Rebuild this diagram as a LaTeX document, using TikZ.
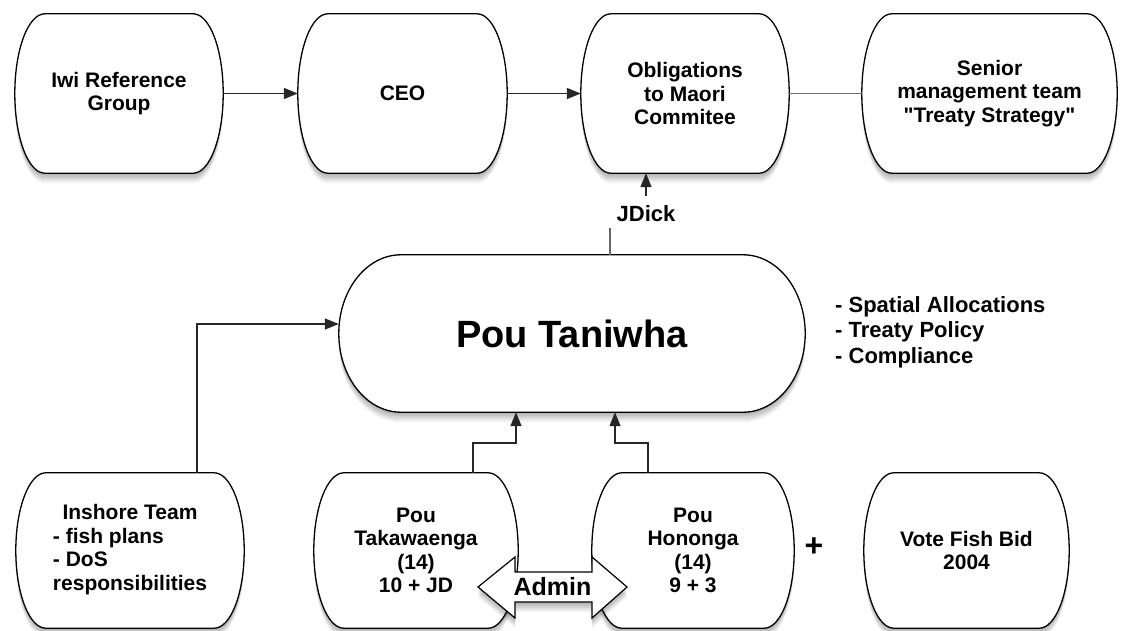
\documentclass[tikz,border=0pt]{standalone}
\usepackage{fontspec}
\setmainfont{Liberation Sans}[Ligatures=TeXOff]
\usetikzlibrary{calc,arrows.meta,shadows}
\pgfdeclarelayer{background}
\pgfsetlayers{background,main}
\newcommand\normaltext{\fontsize{21}{23.5}\selectfont\bfseries}
\newcommand\bullettext{\fontsize{22}{25.5}\selectfont\bfseries}
\newcommand\bigtext{\fontsize{38}{42}\selectfont\bfseries}
\tikzset{
  softshadow/.style={
    general shadow={fill=black, opacity=0.07, shadow xshift=0pt, shadow yshift=-2pt},
    general shadow={fill=black, opacity=0.07, shadow xshift=0pt, shadow yshift=-4pt},
    general shadow={fill=black, opacity=0.07, shadow xshift=0pt, shadow yshift=-6pt},
    general shadow={fill=black, opacity=0.06, shadow xshift=0pt, shadow yshift=-8pt},
    general shadow={fill=black, opacity=0.05, shadow xshift=0pt, shadow yshift=-10pt}},
  boxline/.style={draw=black, line width=1.3pt, fill=white, softshadow},
  holder/.style={draw=none, inner sep=0pt, align=center, font=\normaltext},
  conn/.style={draw=black!85, line width=1.4pt},
  arr/.style={conn, -{Triangle[length=14pt,width=11pt]}},
}
\newcommand\barrel[2]{%
  \path[boxline] let \p1=(#1.north west), \p2=(#1.south east), \n1={(\y1-\y2)/2} in
  (\x1+#2pt,\y1) -- (\x2-#2pt,\y1)
  arc[start angle=90,end angle=-90,x radius=#2pt,y radius={\n1*1pt}]
  -- (\x1+#2pt,\y2)
  arc[start angle=270,end angle=90,x radius=#2pt,y radius={\n1*1pt}] -- cycle;}
\begin{document}
\begin{tikzpicture}[x=1pt,y=-1pt]
\useasboundingbox (0,0) rectangle (1121,631);

% top row
\node[holder, minimum width=208pt, minimum height=159pt] (iwi) at (119,93.5) {Iwi Reference\\Group};
\node[holder, minimum width=209pt, minimum height=159pt] (ceo) at (402.5,93.5) {CEO};
\node[holder, minimum width=208pt, minimum height=159pt] (obl) at (685,93.5) {Obligations\\to Maori\\Commitee};
\node[holder, minimum width=255pt, minimum height=159pt] (sen) at (989.5,93.5) {Senior\\management team\\\char34 Treaty Strategy\char34};

% middle
\node[holder, font=\bigtext, minimum width=466pt, minimum height=157pt] (pou) at (572,333.5) {Pou Taniwha};
\node[anchor=west, align=left, inner sep=0pt, font=\bullettext] (bul) at (835,332)
  {- Spatial Allocations\\- Treaty Policy\\- Compliance};

% bottom row
\node[holder, minimum width=228pt, minimum height=155pt] (ins) at (130,550.5)
  {\begin{tabular}{@{}l@{}}\multicolumn{1}{@{}c@{}}{Inshore Team}\\- fish plans\\- DoS\\responsibilities\end{tabular}};
\node[holder, minimum width=204pt, minimum height=155pt] (tak) at (416,550.5) {Pou\\Takawaenga\\(14)\\10 + JD};
\node[holder, minimum width=202pt, minimum height=155pt] (hon) at (693,550.5) {Pou\\Hononga\\(14)\\9 + 3};
\node[holder, minimum width=205pt, minimum height=155pt] (vote) at (966.5,550.5) {Vote Fish Bid\\2004};
\node[inner sep=0pt, font=\fontsize{32}{32}\selectfont\bfseries] (plus) at (814,547) {+};

\begin{pgfonlayer}{background}
  \fill[white] (0,0) rectangle (1121,631);
  \barrel{iwi}{30}
  \barrel{ceo}{30}
  \barrel{obl}{30}
  \barrel{sen}{30}
  \barrel{pou}{62}
  \barrel{ins}{30}
  \barrel{tak}{30}
  \barrel{hon}{30}
  \barrel{vote}{30}
\end{pgfonlayer}

% connectors top
\draw[arr] (iwi.east) -- (ceo.west);
\draw[arr] (ceo.east) -- (obl.west);
\draw[conn, draw=black!55] (obl.east) -- (sen.west);

% JDick
\node[inner sep=0pt, font=\bullettext] (jd) at (646,214) {JDick};
\coordinate (jdfoot) at (610,228);
\draw[conn, draw=black!60] (pou.north -| jdfoot) -- (jdfoot);
\draw[arr] ([yshift=10pt]jd.north) -- (jd.north |- obl.south);

% inshore to pou
\coordinate (insbend) at (197,324);
\draw[arr] (ins.north -| insbend) -- (insbend) -- (pou.west |- insbend);

% takawaenga to pou
\coordinate (takbend) at (473,443);
\coordinate (takin) at (516,443);
\draw[arr] (tak.north -| takbend) -- (takbend) -- (takin) -- (takin |- pou.south);

% hononga to pou
\coordinate (honbend) at (648,443);
\coordinate (honin) at (615,443);
\draw[arr] (hon.north -| honbend) -- (honbend) -- (honin) -- (honin |- pou.south);

% Admin double arrow
\coordinate (admc) at (552.5,587);
\path[boxline, line width=1.2pt]
  ($(admc)+(-74.5,0)$) -- ($(admc)+(-37.5,-30)$) -- ($(admc)+(-37.5,-15)$)
  -- ($(admc)+(39.5,-15)$) -- ($(admc)+(39.5,-30)$) -- ($(admc)+(74.5,0)$)
  -- ($(admc)+(39.5,31)$) -- ($(admc)+(39.5,15)$) -- ($(admc)+(-37.5,15)$)
  -- ($(admc)+(-37.5,31)$) -- cycle;
\node[inner sep=0pt, font=\fontsize{25}{25}\selectfont\bfseries] (admin) at (admc) {Admin};
\end{tikzpicture}
\end{document}
